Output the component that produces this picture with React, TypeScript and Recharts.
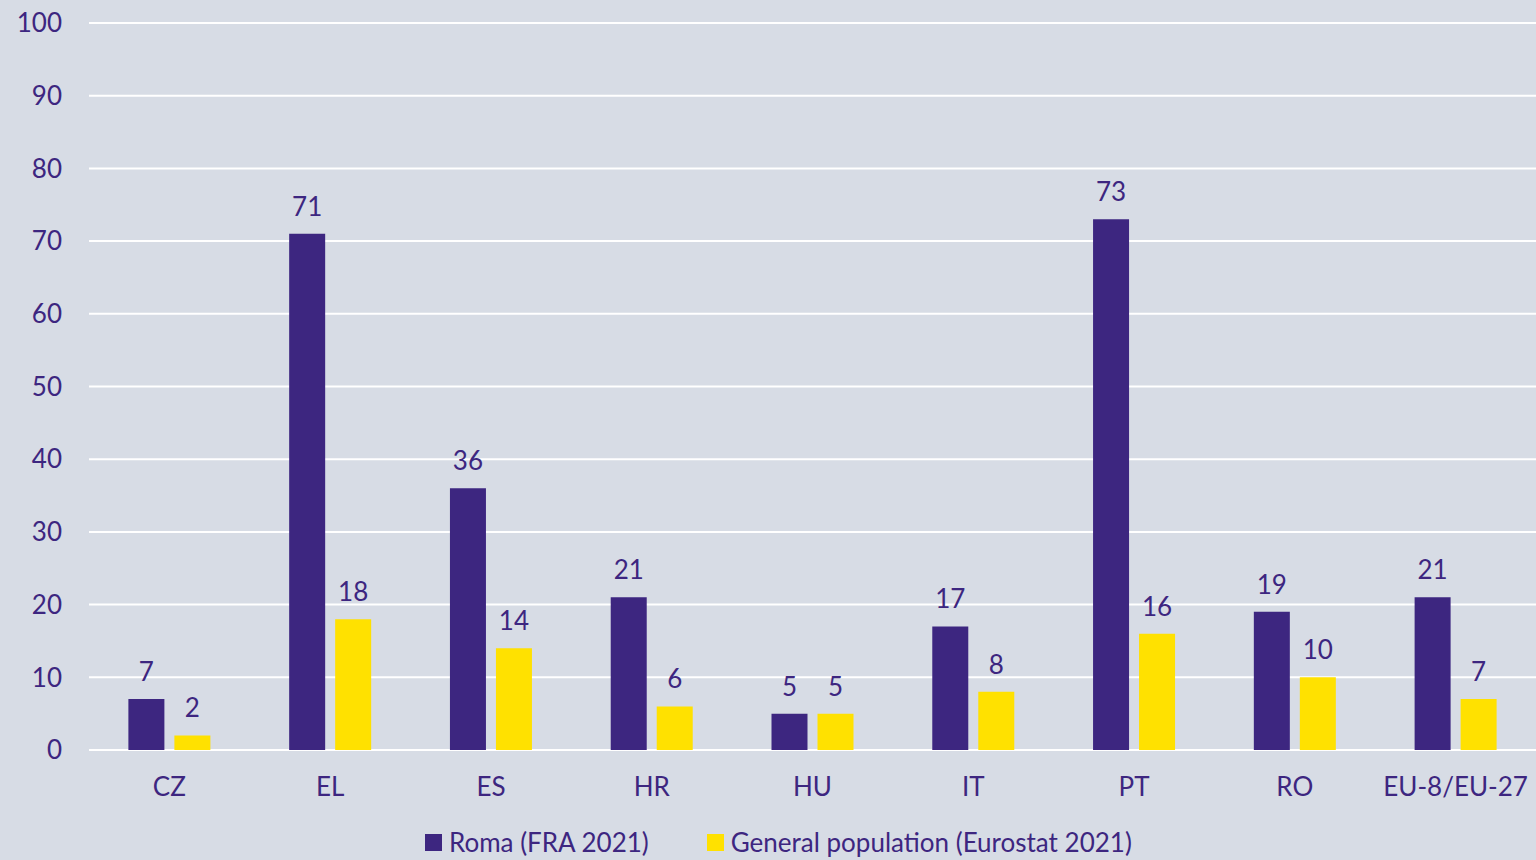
import React from "react";
import {
  BarChart,
  Bar,
  XAxis,
  YAxis,
  CartesianGrid,
  Legend,
  LabelList,
} from "recharts";

const categories = ["CZ", "EL", "ES", "HR", "HU", "IT", "PT", "RO", "EU-8/EU-27"];
const romaValues = [7, 71, 36, 21, 5, 17, 73, 19, 21];
const generalValues = [2, 18, 14, 6, 5, 8, 16, 10, 7];
const yTicks = [0, 10, 20, 30, 40, 50, 60, 70, 80, 90, 100];

const PURPLE = "#3d2680";
const YELLOW = "#ffe100";
const BG = "#d7dce5";
const FONT = "Lato, 'Open Sans', sans-serif";
const FS = 26;

const chartData = categories.map((c, i) => ({
  name: c,
  roma: romaValues[i],
  general: generalValues[i],
}));

function LegendContent() {
  const items = [
    { label: "Roma (FRA 2021)", color: PURPLE },
    { label: "General population (Eurostat 2021)", color: YELLOW },
  ];
  return (
    <div style={{ display: "flex", gap: 58, fontFamily: FONT, fontSize: FS, lineHeight: "30px", color: PURPLE }}>
      {items.map((it) => (
        <div key={it.label} style={{ display: "flex", alignItems: "center", whiteSpace: "nowrap" }}>
          <span style={{ width: 17, height: 17, background: it.color, display: "inline-block", marginRight: 7 }} />
          {it.label}
        </div>
      ))}
    </div>
  );
}

export default function App() {
  return (
    <div style={{ position: "fixed", top: 0, left: 0, width: 1536, height: 860, background: BG, overflow: "hidden" }}>
      <BarChart
        width={1536}
        height={860}
        data={chartData}
        margin={{ top: 23, right: 0, left: 0, bottom: 80 }}
        barCategoryGap="24.5%"
        barGap={10}
      >
        <CartesianGrid vertical={false} stroke="#ffffff" strokeWidth={2} />
        <XAxis
          dataKey="name"
          height={30}
          axisLine={false}
          tickLine={false}
          tickSize={0}
          tickMargin={28}
          interval={0}
          tick={{ fill: PURPLE, fontSize: FS, fontFamily: FONT }}
        />
        <YAxis
          width={89}
          domain={[0, 100]}
          ticks={yTicks}
          axisLine={false}
          tickLine={false}
          tickSize={6}
          tickMargin={21}
          tick={{ fill: PURPLE, fontSize: FS, fontFamily: FONT }}
        />
        <Legend
          verticalAlign="middle"
          align="center"
          content={<LegendContent />}
          wrapperStyle={{ top: 827, left: 425, width: "auto" }}
        />
        <Bar dataKey="roma" name="Roma (FRA 2021)" fill={PURPLE} isAnimationActive={false}>
          <LabelList dataKey="roma" position="top" offset={18} fill={PURPLE} fontSize={FS} fontFamily={FONT} />
        </Bar>
        <Bar dataKey="general" name="General population (Eurostat 2021)" fill={YELLOW} isAnimationActive={false}>
          <LabelList dataKey="general" position="top" offset={18} fill={PURPLE} fontSize={FS} fontFamily={FONT} />
        </Bar>
      </BarChart>
    </div>
  );
}
